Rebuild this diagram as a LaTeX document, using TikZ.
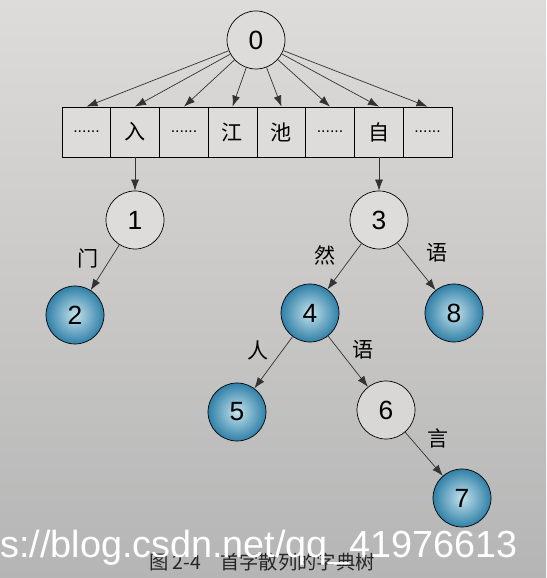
\documentclass[tikz,border=0pt]{standalone}
\usepackage{fontspec}
\usetikzlibrary{arrows.meta}
\setmainfont{Liberation Sans}
\newfontfamily\cjk{Noto Sans CJK SC}
\definecolor{leafin}{RGB}{196,226,236}
\definecolor{leafout}{RGB}{48,128,168}
\definecolor{paper}{RGB}{222,220,218}
\begin{document}
\begin{tikzpicture}
				\tikzstyle{Vertex} = [circle, draw, minimum size=1.16cm, inner sep=0pt, font=\fontsize{15}{15}\selectfont]
				\tikzstyle{Leaf} = [Vertex, inner color=leafin, outer color=leafout]
				\tikzstyle{Cell} = [rectangle, draw, minimum width=0.975cm, minimum height=1cm, inner sep=0pt, fill=paper, font=\cjk\fontsize{12}{12}\selectfont]
				\tikzstyle{Dots} = [Cell, font=\fontsize{9}{9}\selectfont]
				\tikzstyle{Char} = [font=\cjk\fontsize{12}{12}\selectfont]
				\tikzstyle{Edge} = [-{Latex[length=2.2mm,width=1.6mm]}, black!80]
				% background
				\shade [top color=paper, bottom color=gray!58] (0,0) rectangle (10.92,11.56);
				\useasboundingbox (0,0) rectangle (10.92,11.56);
				% root and first-character table
				\node (0) at (5.12,10.76) [Vertex, fill=paper] {0};
				\node (c1) at (1.73,8.92) [Dots] {......};
				\node (c2) at (2.70,8.92) [Cell] {入};
				\node (c3) at (3.68,8.92) [Dots] {......};
				\node (c4) at (4.65,8.92) [Cell] {江};
				\node (c5) at (5.63,8.92) [Cell] {池};
				\node (c6) at (6.60,8.92) [Dots] {......};
				\node (c7) at (7.58,8.92) [Cell] {自};
				\node (c8) at (8.55,8.92) [Dots] {......};
				\draw [Edge] (0) to (c1.north);
				\draw [Edge] (0) to (c2.north);
				\draw [Edge] (0) to (c3.north);
				\draw [Edge] (0) to (c4.north);
				\draw [Edge] (0) to (c5.north);
				\draw [Edge] (0) to (c6.north);
				\draw [Edge] (0) to (c7.north);
				\draw [Edge] (0) to (c8.north);
				% trie nodes
				\node (1) at (2.70,7.16) [Vertex, fill=paper] {1};
				\node (2) at (1.50,5.26) [Leaf] {2};
				\node (3) at (7.58,7.16) [Vertex, fill=paper] {3};
				\node (4) at (6.20,5.30) [Leaf] {4};
				\node (8) at (9.08,5.30) [Leaf] {8};
				\node (5) at (4.74,3.32) [Leaf] {5};
				\node (6) at (7.72,3.36) [Vertex, fill=paper!95!gray] {6};
				\node (7) at (9.24,1.60) [Leaf] {7};
				\draw [Edge] (c2.south) to (1);
				\draw [Edge] (c7.south) to (3);
				\draw [Edge] (1) to (2);
				\draw [Edge] (3) to (4);
				\draw [Edge] (3) to (8);
				\draw [Edge] (4) to (5);
				\draw [Edge] (4) to (6);
				\draw [Edge] (6) to (7);
				% edge labels
				\node (m1) at (1.76,6.40) [Char] {门};
				\node (m2) at (6.50,6.46) [Char] {然};
				\node (m3) at (8.74,6.50) [Char] {语};
				\node (m4) at (5.16,4.56) [Char] {人};
				\node (m5) at (7.26,4.56) [Char] {语};
				\node (m6) at (8.76,2.80) [Char] {言};
				% caption and watermark
				\node (cap) at (5.24,0.32) [font=\cjk\fontsize{11}{11}\selectfont, black!85] {图 2-4\quad 首字散列的字典树};
				\node (wm) at (0,0.40) [anchor=base west, inner sep=0pt, white, font=\fontsize{21.5}{21.5}\selectfont] {s://blog.csdn.net/qq\_41976613};
			\end{tikzpicture}
\end{document}
